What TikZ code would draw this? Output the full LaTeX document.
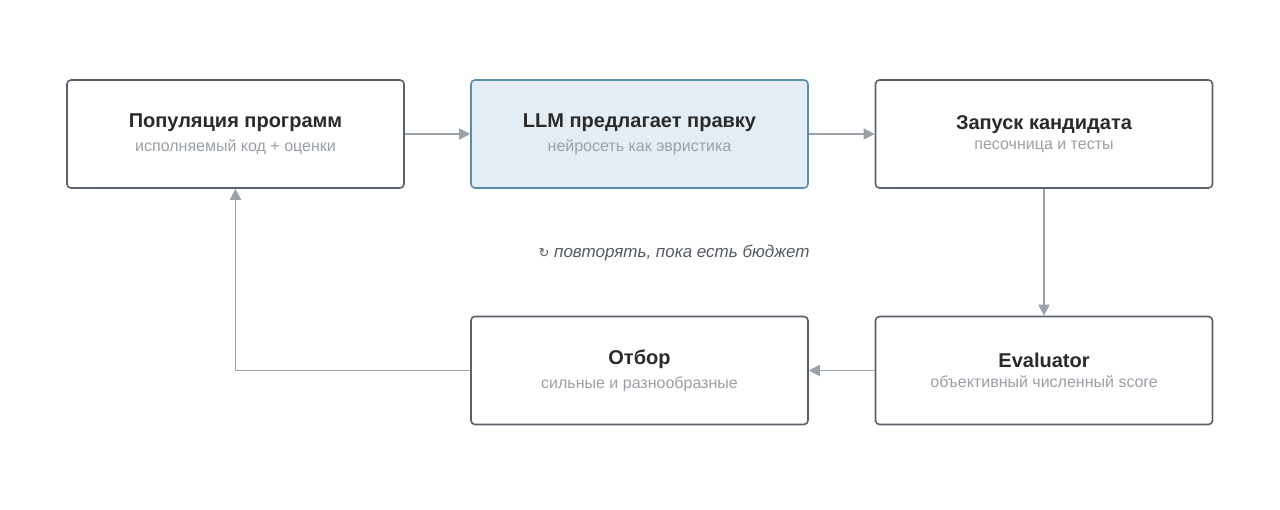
\documentclass[tikz,border=0pt]{standalone}
\usepackage{fontspec}
\setmainfont{Liberation Sans}
\newfontfamily\symf{DejaVu Sans}
\usetikzlibrary{arrows.meta}
\definecolor{bord}{HTML}{59626A}
\definecolor{hbord}{HTML}{5A8DB0}
\definecolor{hfill}{HTML}{E5EDF4}
\definecolor{arr}{HTML}{9AA1A8}
\definecolor{sub}{HTML}{9AA0A6}
\definecolor{ttl}{HTML}{2A2A2A}
\definecolor{loopc}{HTML}{555B60}
\begin{document}
\begin{tikzpicture}[x=1pt,y=-1pt,
 box/.style={draw=bord,line width=1.6pt,rounded corners=4pt,fill=white,minimum width=337pt,minimum height=108pt,inner sep=0},
 hl/.style={box,draw=hbord,fill=hfill},
 ar/.style={draw=arr,line width=1.8pt,-{Triangle[length=11pt,width=11pt]}}]
\useasboundingbox (0,0) rectangle (1280,509);
\newcommand{\bx}[3]{\textbf{\fontsize{20}{24}\selectfont\color{ttl}#1}\\[7pt]{\fontsize{16}{19}\selectfont\color{sub}#2}}
\node[box,align=center] (a) at (235.5,134) {\bx{Популяция программ}{исполняемый код + оценки}{}};
\node[hl,align=center] (b) at (639.5,134) {\bx{LLM предлагает правку}{нейросеть как эвристика}{}};
\node[box,align=center] (c) at (1044,134) {\bx{Запуск кандидата}{песочница и тесты}{}};
\node[box,align=center] (e) at (1044,370.5) {\bx{Evaluator}{объективный численный score}{}};
\node[box,align=center] (o) at (639.5,370.5) {\bx{Отбор}{сильные и разнообразные}{}};
\node[text=loopc,font=\fontsize{17}{20}\selectfont\itshape] (l) at (674,253) {{\symf\upshape\fontsize{13}{16}\selectfont ↻} повторять, пока есть бюджет};
\draw[ar] (a) -- (b);
\draw[ar] (b) -- (c);
\draw[ar] (c) -- (e);
\draw[ar] (e) -- (o);
\draw[ar] (o.west) -| (a.south);
\end{tikzpicture}
\end{document}
